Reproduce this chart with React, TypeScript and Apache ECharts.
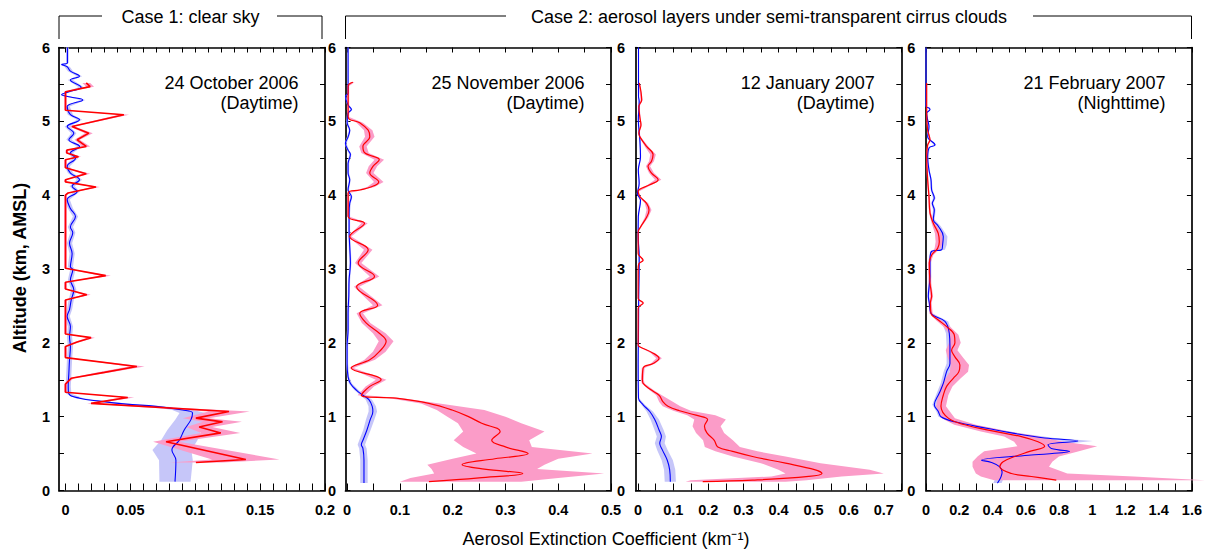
import React, { useEffect, useRef } from "react";
import * as echarts from "echarts";

// Rows: [altitude (km), extinction (km^-1), ±error]  or  [altitude, extinction, lower, upper]
const oct24Red = [
  [5.52, 0.016, 0.003], [5.47, 0.019, 0.003], [5.4, 0.0, 0.001], [5.15, 0.0, 0.001],
  [5.09, 0.045, 0.004], [4.93, 0.005, 0.002], [4.84, 0.018, 0.003], [4.75, 0.009, 0.002],
  [4.66, 0.016, 0.003], [4.61, 0.001, 0.001], [4.57, 0.001, 0.001], [4.52, 0.01, 0.002],
  [4.48, 0.0, 0.001], [4.37, 0.0, 0.001], [4.29, 0.016, 0.003], [4.21, 0.0, 0.001],
  [4.18, 0.0, 0.001], [4.11, 0.0235, 0.003], [4.03, 0.002, 0.001], [4.0, 0.0, 0.001],
  [3.01, 0.0, 0.001], [2.91, 0.031, 0.004], [2.82, 0.0, 0.001], [2.73, 0.0, 0.001],
  [2.65, 0.0164, 0.003], [2.58, 0.0, 0.001], [2.12, 0.0, 0.001], [2.07, 0.0197, 0.003],
  [2.01, 0.009, 0.002], [1.95, 0.0, 0.001], [1.8, 0.0, 0.001], [1.68, 0.055, 0.006],
  [1.6, 0.03, 0.005], [1.52, 0.0044, 0.002], [1.44, 0.0, 0.001], [1.33, 0.0, 0.001],
  [1.26, 0.048, 0.005], [1.18, 0.0197, 0.003], [1.07, 0.126, 0.016], [0.98, 0.1005, 0.01],
  [0.93, 0.121, 0.015], [0.86, 0.103, 0.01], [0.78, 0.1197, 0.015], [0.66, 0.0775, 0.01],
  [0.42, 0.139, 0.026], [0.38, 0.1005, 0.02],
];
const oct24Blue = [
  [6.0, 0.0015, 0.001], [5.79, 0.0015, 0.001], [5.77, -0.003, 0.001], [5.74, 0.0013, 0.002],
  [5.68, 0.0038, 0.002], [5.61, 0.0108, 0.002], [5.56, 0.0038, 0.002], [5.46, 0.0121, 0.002],
  [5.4, 0.0026, 0.002], [5.36, -0.003, 0.001], [5.33, 0.0038, 0.002], [5.29, 0.0133, 0.002],
  [5.2, 0.0013, 0.002], [5.09, 0.0038, 0.002], [5.02, 0.0108, 0.002], [4.93, 0.0013, 0.002],
  [4.84, 0.0064, 0.002], [4.75, 0.0026, 0.002], [4.66, 0.0108, 0.002], [4.57, 0.0038, 0.002],
  [4.5, 0.0077, 0.002], [4.39, 0.0013, 0.002], [4.3, 0.0038, 0.002], [4.21, 0.0108, 0.002],
  [4.12, 0.0051, 0.002], [4.05, 0.009, 0.002], [3.94, 0.0013, 0.002], [3.82, 0.0038, 0.002],
  [3.71, 0.0077, 0.002], [3.57, 0.0038, 0.002], [3.49, 0.0056, 0.002], [3.35, 0.0031, 0.002],
  [3.21, 0.0051, 0.002], [3.03, 0.0038, 0.002], [2.99, 0.0056, 0.002], [2.85, 0.0038, 0.002],
  [2.72, 0.0064, 0.002], [2.58, 0.0044, 0.002], [2.45, 0.0031, 0.002], [2.36, 0.0013, 0.002],
  [2.22, 0.0038, 0.002], [2.08, 0.0031, 0.002], [1.95, 0.0038, 0.002], [1.77, 0.0031, 0.002],
  [1.59, 0.0026, 0.002], [1.41, 0.0021, 0.002], [1.31, 0.0026, 0.002], [1.25, 0.0108, 0.003],
  [1.21, 0.0262, 0.004], [1.17, 0.0467, 0.005], [1.14, 0.0697, 0.006], [1.09, 0.0903, 0.008],
  [1.05, 0.0979, 0.01], [0.96, 0.0967, 0.012], [0.82, 0.0915, 0.013], [0.68, 0.0877, 0.014],
  [0.55, 0.082, 0.015], [0.41, 0.0851, 0.013], [0.12, 0.0844, 0.012],
];

const nov25Red = [
  [5.53, 0.011, 0.003], [5.48, 0.002, 0.002], [5.06, 0.002, 0.002], [4.98, 0.024, 0.006],
  [4.88, 0.04, 0.008], [4.79, 0.043, 0.009], [4.66, 0.03, 0.007], [4.57, 0.034, 0.007],
  [4.48, 0.061, 0.009], [4.39, 0.049, 0.008], [4.3, 0.043, 0.007], [4.18, 0.06, 0.009],
  [4.11, 0.045, 0.007], [4.07, 0.024, 0.005], [4.03, 0.002, 0.002], [3.71, 0.002, 0.002],
  [3.62, 0.033, 0.006], [3.44, 0.005, 0.003], [3.26, 0.04, 0.008], [3.08, 0.021, 0.006],
  [2.9, 0.052, 0.009], [2.76, 0.018, 0.005], [2.51, 0.058, 0.009], [2.4, 0.024, 0.006],
  [2.27, 0.036, 0.008], [2.13, 0.061, 0.012], [2.02, 0.074, 0.014], [1.88, 0.061, 0.012],
  [1.77, 0.043, 0.01], [1.66, 0.008, 0.004], [1.5, 0.0645, 0.01], [1.41, 0.043, 0.008],
  [1.29, 0.027, 0.007], [1.25, 0.093, 0.08, 0.105], [1.18, 0.155, 0.14, 0.175],
  [1.09, 0.199, 0.17, 0.26], [1.0, 0.23, 0.19, 0.3], [0.91, 0.255, 0.21, 0.33],
  [0.8, 0.29, 0.22, 0.374], [0.68, 0.274, 0.202, 0.345], [0.59, 0.3, 0.22, 0.35],
  [0.5, 0.343, 0.245, 0.465], [0.43, 0.28, 0.2, 0.4], [0.35, 0.218, 0.152, 0.374],
  [0.29, 0.26, 0.16, 0.36], [0.23, 0.333, 0.165, 0.487], [0.17, 0.25, 0.12, 0.4],
  [0.12, 0.155, 0.1, 0.33],
];
const nov25Blue = [
  [6.0, 0.0019, 0.001], [5.38, 0.0019, 0.001], [5.34, -0.003, 0.001], [5.22, 0.0019, 0.002],
  [5.16, 0.0082, 0.002], [5.11, 0.0019, 0.002], [4.98, 0.0001, 0.002], [4.88, 0.005, 0.002],
  [4.79, 0.0019, 0.002], [4.7, -0.003, 0.002], [4.61, 0.0019, 0.002], [4.55, 0.0063, 0.002],
  [4.43, 0.0019, 0.002], [4.3, 0.0019, 0.002], [4.21, 0.005, 0.002], [4.07, 0.0019, 0.002],
  [3.98, 0.0082, 0.002], [3.89, 0.005, 0.002], [3.76, 0.0038, 0.002], [3.53, 0.0038, 0.002],
  [3.3, 0.005, 0.002], [3.08, 0.0063, 0.002], [2.85, 0.0038, 0.002], [2.63, 0.0032, 0.002],
  [2.4, 0.0019, 0.002], [2.18, 0.0019, 0.002], [1.95, 0.0, 0.002], [1.72, 0.0, 0.002],
  [1.54, 0.0019, 0.002], [1.45, 0.0063, 0.003], [1.36, 0.0176, 0.004], [1.29, 0.0301, 0.005],
  [1.23, 0.0413, 0.006], [1.14, 0.0476, 0.007], [1.07, 0.0488, 0.008], [0.96, 0.0438, 0.008],
  [0.82, 0.0376, 0.007], [0.68, 0.03, 0.007], [0.62, 0.027, 0.007], [0.57, 0.03, 0.007],
  [0.41, 0.032, 0.007], [0.1, 0.032, 0.007],
];

const jan12Red = [
  [5.52, 0.003, 0.002], [5.29, 0.01, 0.003], [5.2, 0.002, 0.002], [5.05, 0.005, 0.002],
  [4.95, 0.008, 0.002], [4.84, 0.002, 0.002], [4.79, 0.005, 0.002], [4.66, 0.024, 0.005],
  [4.55, 0.0425, 0.008], [4.46, 0.038, 0.007], [4.39, 0.028, 0.006], [4.3, 0.038, 0.007],
  [4.21, 0.057, 0.009], [4.14, 0.033, 0.006], [4.05, 0.0, 0.002], [3.98, 0.005, 0.002],
  [3.89, 0.024, 0.005], [3.8, 0.031, 0.007], [3.7, 0.024, 0.005], [3.57, 0.007, 0.002],
  [3.5, 0.0, 0.001], [3.21, 0.0, 0.001], [3.12, 0.014, 0.003], [3.07, 0.002, 0.002],
  [3.0, 0.0, 0.001], [2.6, 0.0, 0.001], [2.54, 0.0143, 0.003], [2.47, 0.0, 0.001],
  [1.97, 0.0, 0.001], [1.95, 0.003, 0.002], [1.86, 0.0426, 0.006], [1.79, 0.0596, 0.008],
  [1.72, 0.0426, 0.006], [1.66, 0.0143, 0.004], [1.5, 0.012, 0.004], [1.45, 0.0143, 0.004],
  [1.36, 0.0378, 0.006], [1.29, 0.0596, 0.008], [1.2, 0.071, 0.06, 0.1],
  [1.14, 0.085, 0.07, 0.12], [1.08, 0.118, 0.1, 0.15], [1.02, 0.165, 0.14, 0.22],
  [0.96, 0.198, 0.16, 0.25], [0.87, 0.189, 0.155, 0.235], [0.78, 0.196, 0.165, 0.245],
  [0.68, 0.217, 0.185, 0.27], [0.59, 0.227, 0.19, 0.29], [0.53, 0.269, 0.22, 0.34],
  [0.46, 0.326, 0.27, 0.42], [0.37, 0.42, 0.35, 0.52], [0.28, 0.505, 0.4, 0.66],
  [0.23, 0.524, 0.42, 0.7], [0.19, 0.486, 0.38, 0.58], [0.14, 0.326, 0.15, 0.48],
  [0.12, 0.184, 0.135, 0.42],
];
const jan12Blue = [
  [6.0, 0.001, 0.001], [5.34, 0.001, 0.001], [5.27, 0.0029, 0.002], [5.02, 0.0005, 0.002],
  [4.75, 0.0048, 0.002], [4.52, 0.0067, 0.002], [4.34, 0.0005, 0.002], [4.16, 0.0029, 0.002],
  [4.02, -0.002, 0.002], [3.93, 0.0067, 0.002], [3.71, 0.0005, 0.002], [3.44, 0.0, 0.002],
  [3.17, 0.0029, 0.002], [2.9, 0.0025, 0.002], [2.63, 0.0015, 0.002], [2.2, 0.001, 0.002],
  [1.7, 0.0, 0.002], [1.25, 0.001, 0.002], [1.16, 0.0143, 0.005], [1.07, 0.0331, 0.009],
  [0.96, 0.0473, 0.012], [0.82, 0.0596, 0.013], [0.73, 0.0662, 0.013], [0.64, 0.0615, 0.014],
  [0.55, 0.069, 0.015], [0.41, 0.083, 0.016], [0.28, 0.0898, 0.016], [0.12, 0.0917, 0.016],
];

const feb21Red = [
  [5.52, 0.004, 0.003], [5.11, 0.004, 0.003], [4.88, 0.01, 0.004], [4.75, 0.024, 0.005],
  [4.68, 0.01, 0.004], [4.52, 0.004, 0.004], [4.21, 0.01, 0.004], [3.98, 0.018, 0.005],
  [3.76, 0.024, 0.006], [3.62, 0.044, 0.01], [3.48, 0.074, 0.02], [3.37, 0.08, 0.022],
  [3.28, 0.07, 0.018], [3.19, 0.034, 0.01], [3.08, 0.02, 0.008], [2.81, 0.024, 0.008],
  [2.63, 0.034, 0.008], [2.54, 0.026, 0.008], [2.4, 0.03, 0.01], [2.31, 0.074, 0.015],
  [2.22, 0.124, 0.02], [2.11, 0.17, 0.025], [2.0, 0.174, 0.035], [1.9, 0.154, 0.035],
  [1.81, 0.174, 0.045], [1.7, 0.204, 0.055], [1.61, 0.198, 0.055], [1.52, 0.164, 0.045],
  [1.41, 0.124, 0.035], [1.29, 0.104, 0.03], [1.14, 0.09, 0.03], [0.98, 0.134, 0.04],
  [0.89, 0.234, 0.17, 0.3], [0.8, 0.414, 0.33, 0.5], [0.73, 0.574, 0.47, 0.68],
  [0.66, 0.674, 0.53, 0.83], [0.6, 0.714, 0.55, 1.03], [0.53, 0.624, 0.35, 0.92],
  [0.46, 0.534, 0.31, 0.8], [0.39, 0.464, 0.28, 0.76], [0.32, 0.444, 0.28, 0.74],
  [0.23, 0.514, 0.3, 0.85], [0.19, 0.634, 0.33, 1.25], [0.14, 0.784, 0.41, 1.68],
];
const feb21Blue = [
  [6.0, 0.0, 0.002], [5.2, 0.0, 0.002], [5.18, 0.018, 0.004], [5.16, 0.024, 0.004],
  [5.11, 0.004, 0.003], [5.02, 0.01, 0.003], [4.93, 0.018, 0.004], [4.79, 0.01, 0.003],
  [4.68, 0.054, 0.008], [4.64, 0.018, 0.004], [4.52, 0.01, 0.004], [4.34, 0.018, 0.004],
  [4.21, 0.03, 0.005], [4.07, 0.034, 0.006], [3.96, 0.05, 0.008], [3.89, 0.038, 0.007],
  [3.8, 0.05, 0.008], [3.67, 0.044, 0.008], [3.58, 0.074, 0.015], [3.44, 0.104, 0.025],
  [3.33, 0.1, 0.025], [3.26, 0.094, 0.02], [3.24, 0.034, 0.01], [3.12, 0.024, 0.008],
  [2.9, 0.024, 0.008], [2.63, 0.014, 0.006], [2.54, 0.02, 0.006], [2.4, 0.03, 0.008],
  [2.29, 0.114, 0.02], [2.13, 0.14, 0.02], [1.95, 0.144, 0.02], [1.72, 0.144, 0.02],
  [1.61, 0.124, 0.018], [1.45, 0.104, 0.016], [1.32, 0.08, 0.015], [1.16, 0.05, 0.012],
  [1.07, 0.074, 0.012], [1.0, 0.09, 0.015], [0.93, 0.174, 0.02], [0.84, 0.374, 0.03],
  [0.78, 0.514, 0.04], [0.71, 0.714, 0.06], [0.67, 0.914, 0.09], [0.62, 0.734, 0.05],
  [0.57, 0.754, 0.05], [0.53, 0.864, 0.04], [0.48, 0.634, 0.03], [0.41, 0.334, 0.025],
  [0.38, 0.394, 0.025], [0.32, 0.444, 0.025], [0.25, 0.458, 0.025], [0.1, 0.43, 0.025],
];

// Tick labels of the x axes
const ticksOct24 = [0, 0.05, 0.1, 0.15, 0.2];
const ticksNov25 = [0, 0.1, 0.2, 0.3, 0.4, 0.5];
const ticksJan12 = [0, 0.1, 0.2, 0.3, 0.4, 0.5, 0.6, 0.7];
const ticksFeb21 = [0, 0.2, 0.4, 0.6, 0.8, 1, 1.2, 1.4, 1.6];
const altitudeLabels = [0, 1, 2, 3, 4, 5, 6];

const dates = ["24 October 2006", "25 November 2006", "12 January 2007", "21 February 2007"];
const times = ["(Daytime)", "(Daytime)", "(Daytime)", "(Nighttime)"];

const FONT = "'Liberation Sans', Arial, Helvetica, sans-serif";
const RED = "#ff0000";
const BLUE = "#0000ff";
const PINK = "#fb9cc8";
const LIGHTBLUE = "#c6c6f9";

const range = (r: number[]) => (r.length >= 4 ? [r[2], r[3]] : [r[1] - r[2], r[1] + r[2]]);

function minorTicks(min: number, max: number, step: number) {
  const out: number[] = [];
  const n = Math.round(max / step);
  for (let i = 0; i <= n; i++) out.push(Math.round(i * step * 1e6) / 1e6);
  return out.filter((v) => v >= min && v <= max);
}

const panels = [
  { red: oct24Red, blue: oct24Blue, min: -0.005, max: 0.2, step: 0.01, labels: ticksOct24, left: 59, width: 266, smooth: false, redW: 1.6 },
  { red: nov25Red, blue: nov25Blue, min: -0.003, max: 0.5, step: 0.05, labels: ticksNov25, left: 345.5, width: 265.5, smooth: 0.4, redW: 1.2 },
  { red: jan12Red, blue: jan12Blue, min: -0.007, max: 0.75, step: 0.05, labels: ticksJan12, left: 635.7, width: 265.6, smooth: 0.4, redW: 1.2 },
  { red: feb21Red, blue: feb21Blue, min: 0, max: 1.6, step: 0.1, labels: ticksFeb21, left: 926, width: 266, smooth: 0.4, redW: 1.2 },
];

const GRID_TOP = 47.5;
const GRID_H = 443;

function bandSeries(rows: number[][], xi: number, yi: number, color: string, z: number) {
  return {
    type: "custom",
    xAxisIndex: xi,
    yAxisIndex: yi,
    silent: true,
    clip: false,
    z,
    data: rows.map((r) => [r[1], r[0]]),
    renderItem: (params: any, api: any) => {
      if (params.dataIndex !== 0) return null;
      const lower = rows.map((r) => api.coord([range(r)[0], r[0]]));
      const upper = rows
        .slice()
        .reverse()
        .map((r) => api.coord([range(r)[1], r[0]]));
      return {
        type: "polygon",
        shape: { points: lower.concat(upper) },
        style: { fill: color, stroke: null },
      };
    },
  };
}

function buildOption() {
  const grid: any[] = [];
  const xAxis: any[] = [];
  const yAxis: any[] = [];
  const series: any[] = [];
  const graphic: any[] = [];
  const axisLine = { onZero: false, lineStyle: { color: "#000", width: 1.7 } };
  const labelFont = { color: "#000", fontSize: 14.5, fontWeight: "bold", fontFamily: FONT };

  panels.forEach((p, i) => {
    grid.push({ left: p.left, top: GRID_TOP, width: p.width, height: GRID_H });
    const minors = minorTicks(p.min, p.max, p.step);
    const xBase = {
      type: "value",
      gridIndex: i,
      min: p.min,
      max: p.max,
      axisLine,
      splitLine: { show: false },
    };
    xAxis.push({
      ...xBase,
      position: "bottom",
      axisTick: { inside: true, length: 7, customValues: minors, lineStyle: { color: "#000", width: 1 } },
      axisLabel: { ...labelFont, customValues: p.labels, margin: 12, formatter: (v: number) => String(v) },
    });
    xAxis.push({
      ...xBase,
      position: "top",
      axisTick: { inside: true, length: 5, customValues: minors, lineStyle: { color: "#000", width: 1 } },
      axisLabel: { show: false },
    });
    const yBase = {
      type: "value",
      gridIndex: i,
      min: 0,
      max: 6,
      interval: 0.5,
      axisLine,
      splitLine: { show: false },
      axisTick: { inside: true, length: 5, lineStyle: { color: "#000", width: 1 } },
    };
    const yFmt = (v: number) => (altitudeLabels.indexOf(v) >= 0 ? String(v) : "");
    yAxis.push({ ...yBase, position: "left", axisLabel: { ...labelFont, show: i === 0, margin: 9, formatter: yFmt } });
    yAxis.push({ ...yBase, position: "right", axisLabel: { ...labelFont, show: i < 3, margin: i === 0 ? 3 : 6, formatter: yFmt } });

    const xi = i * 2;
    const yi = i * 2;
    series.push(bandSeries(p.blue, xi, yi, LIGHTBLUE, 1));
    series.push(bandSeries(p.red, xi, yi, PINK, 2));
    series.push({
      type: "line",
      xAxisIndex: xi,
      yAxisIndex: yi,
      data: p.blue.map((r) => [r[1], r[0]]),
      symbol: "none",
      smooth: 0.4,
      clip: false,
      silent: true,
      z: 3,
      lineStyle: { color: BLUE, width: 1.1 },
    });
    series.push({
      type: "line",
      xAxisIndex: xi,
      yAxisIndex: yi,
      data: p.red.map((r) => [r[1], r[0]]),
      symbol: "none",
      smooth: p.smooth,
      clip: false,
      silent: true,
      z: 4,
      lineStyle: { color: RED, width: p.redW },
    });

    const right = p.left + p.width - 26.5;
    graphic.push({
      type: "text", x: right, y: 82.5, z: 10,
      style: { text: dates[i], font: `18px ${FONT}`, fill: "#000", textAlign: "right", textVerticalAlign: "middle" },
    });
    graphic.push({
      type: "text", x: right, y: 103, z: 10,
      style: { text: times[i], font: `18px ${FONT}`, fill: "#000", textAlign: "right", textVerticalAlign: "middle" },
    });
  });

  const ln = (x1: number, y1: number, x2: number, y2: number) => ({
    type: "line",
    shape: { x1, y1, x2, y2 },
    style: { stroke: "#000", lineWidth: 1 },
  });
  graphic.push(ln(59, 39, 59, 16), ln(59, 16, 102, 16), ln(277, 16, 322, 16), ln(322, 16, 322, 39));
  graphic.push({
    type: "text", x: 190.5, y: 17,
    style: { text: "Case 1: clear sky", font: `18px ${FONT}`, fill: "#000", textAlign: "center", textVerticalAlign: "middle" },
  });
  graphic.push(ln(345.5, 39, 345.5, 16), ln(345.5, 16, 506, 16), ln(1033, 16, 1191.5, 16), ln(1191.5, 16, 1191.5, 39));
  graphic.push({
    type: "text", x: 769, y: 17,
    style: {
      text: "Case 2: aerosol layers under semi-transparent cirrus clouds",
      font: `18px ${FONT}`, fill: "#000", textAlign: "center", textVerticalAlign: "middle",
    },
  });
  graphic.push({
    type: "text", x: 20, y: 268, rotation: Math.PI / 2,
    style: { text: "Altitude (km, AMSL)", font: `bold 18px ${FONT}`, fill: "#000", textAlign: "center", textVerticalAlign: "middle" },
  });
  graphic.push({
    type: "text", x: 606, y: 539,
    style: {
      text: "Aerosol Extinction Coefficient (km\u207B\u00B9)",
      font: `18px ${FONT}`, fill: "#000", textAlign: "center", textVerticalAlign: "middle",
    },
  });

  return { animation: false, backgroundColor: "#fff", grid, xAxis, yAxis, series, graphic };
}

export default function App() {
  const ref = useRef<HTMLDivElement>(null);
  useEffect(() => {
    if (!ref.current) return;
    const chart = echarts.init(ref.current, null, { renderer: "svg" });
    chart.setOption(buildOption() as any);
    return () => chart.dispose();
  }, []);
  return (
    <div
      ref={ref}
      style={{ position: "fixed", left: 0, top: 0, width: 1205, height: 551, background: "#fff" }}
    />
  );
}
